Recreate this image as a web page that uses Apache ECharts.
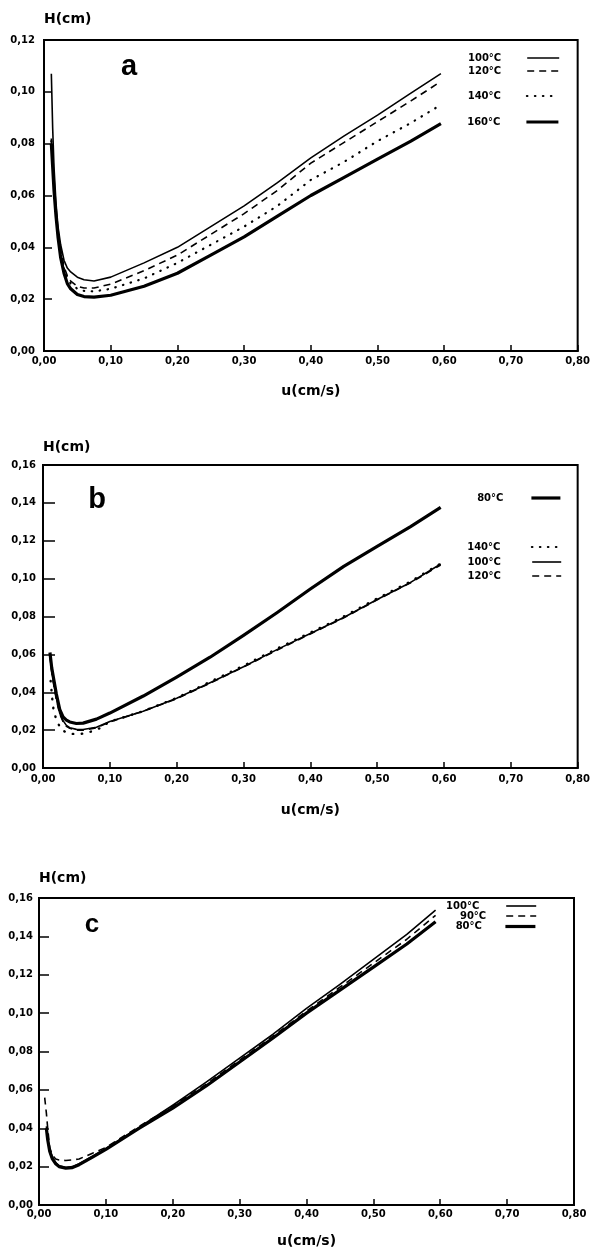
<!DOCTYPE html>
<html>
<head>
<meta charset="utf-8">
<script src="https://cdn.jsdelivr.net/npm/echarts@6/dist/echarts.min.js"></script>
<style>
html,body{margin:0;padding:0;background:#fff;}
#chart{width:593px;height:1250px;}
</style>
</head>
<body>
<div id="chart"></div>
<script>
// ---------- Panel a ----------
const uA = [0.011, 0.013, 0.015, 0.018, 0.021, 0.025, 0.03, 0.035, 0.04, 0.05, 0.06, 0.075, 0.1, 0.15, 0.2, 0.25, 0.3, 0.35, 0.4, 0.45, 0.5, 0.55, 0.595];
const hA100 = [0.107, 0.086, 0.071, 0.057, 0.048, 0.041, 0.035, 0.032, 0.0305, 0.0285, 0.0275, 0.027, 0.0285, 0.034, 0.040, 0.048, 0.056, 0.065, 0.0745, 0.083, 0.091, 0.0995, 0.107];
const hA120 = [0.082, 0.073, 0.064, 0.054, 0.046, 0.039, 0.0325, 0.029, 0.027, 0.025, 0.0243, 0.0243, 0.0258, 0.031, 0.037, 0.045, 0.053, 0.062, 0.0725, 0.0805, 0.0885, 0.0965, 0.104];
const hA140 = [0.081, 0.072, 0.063, 0.053, 0.045, 0.038, 0.0315, 0.028, 0.026, 0.024, 0.0232, 0.023, 0.024, 0.028, 0.034, 0.041, 0.048, 0.056, 0.066, 0.073, 0.081, 0.088, 0.095];
const hA160 = [0.080, 0.071, 0.062, 0.052, 0.044, 0.036, 0.030, 0.026, 0.024, 0.0218, 0.021, 0.0208, 0.0215, 0.025, 0.030, 0.037, 0.044, 0.052, 0.060, 0.067, 0.074, 0.081, 0.0877];

// ---------- Panel b ----------
const uB = [0.0104, 0.013, 0.016, 0.02, 0.025, 0.03, 0.035, 0.04, 0.05, 0.06, 0.08, 0.1, 0.15, 0.2, 0.25, 0.3, 0.35, 0.4, 0.45, 0.5, 0.55, 0.595];
const hB80  = [0.061, 0.053, 0.047, 0.039, 0.031, 0.027, 0.0253, 0.0243, 0.0235, 0.0237, 0.0258, 0.029, 0.038, 0.048, 0.0585, 0.070, 0.082, 0.0945, 0.1065, 0.117, 0.1275, 0.1376];
const hB100 = [0.060, 0.052, 0.045, 0.037, 0.029, 0.025, 0.0225, 0.0213, 0.0204, 0.0203, 0.0215, 0.0245, 0.030, 0.0368, 0.045, 0.0535, 0.0625, 0.071, 0.0795, 0.089, 0.098, 0.1077];
const hB120 = [0.059, 0.051, 0.044, 0.036, 0.0285, 0.0245, 0.022, 0.021, 0.020, 0.020, 0.0212, 0.0243, 0.030, 0.0366, 0.0448, 0.0533, 0.0622, 0.0708, 0.0793, 0.0888, 0.0978, 0.1072];
const uB140 = [0.0114, 0.014, 0.016, 0.021, 0.028, 0.04, 0.057, 0.07, 0.085, 0.1, 0.15, 0.2, 0.25, 0.3, 0.35, 0.4, 0.45, 0.5, 0.55, 0.595];
const hB140 = [0.046, 0.036, 0.030, 0.0245, 0.020, 0.018, 0.018, 0.019, 0.021, 0.0245, 0.030, 0.037, 0.0455, 0.054, 0.063, 0.0715, 0.080, 0.0895, 0.0985, 0.108];

// ---------- Panel c ----------
const uC = [0.011, 0.013, 0.016, 0.02, 0.025, 0.03, 0.04, 0.05, 0.06, 0.08, 0.1, 0.15, 0.2, 0.25, 0.3, 0.35, 0.4, 0.45, 0.5, 0.55, 0.593];
const hC100 = [0.041, 0.035, 0.029, 0.025, 0.022, 0.0205, 0.0195, 0.020, 0.0215, 0.0255, 0.0295, 0.0405, 0.052, 0.064, 0.0765, 0.089, 0.1025, 0.115, 0.128, 0.141, 0.1537];
const hC80  = [0.040, 0.034, 0.028, 0.024, 0.0215, 0.020, 0.0192, 0.0195, 0.021, 0.025, 0.029, 0.040, 0.0505, 0.062, 0.0745, 0.087, 0.100, 0.112, 0.124, 0.136, 0.1476];
const uC90 = [0.0085, 0.011, 0.013, 0.016, 0.02, 0.025, 0.03, 0.04, 0.05, 0.06, 0.08, 0.1, 0.15, 0.2, 0.25, 0.3, 0.35, 0.4, 0.45, 0.5, 0.55, 0.593];
const hC90  = [0.056, 0.048, 0.040, 0.030, 0.026, 0.024, 0.0235, 0.0232, 0.0235, 0.024, 0.027, 0.030, 0.041, 0.0515, 0.063, 0.0755, 0.088, 0.101, 0.1135, 0.126, 0.1385, 0.151];

// Axis text
const yName = 'H(cm)';
const xName = 'u(cm/s)';
const panelLetters = ['a', 'b', 'c'];
const yMax = [0.12, 0.16, 0.16];

const FONT = 'DejaVu Sans';
const pair = (u, h) => u.map((v, i) => [v, h[i]]);
const fmt = v => v.toFixed(2).replace('.', ',');

const STY = {
  thin:  {width: 1.6, type: 'solid'},
  thick: {width: 3.2, type: 'solid'},
  dash:  {width: 1.6, type: [7, 5]},
  dot:   {width: 2.2, type: [0.5, 7.5], cap: 'round'}
};

function line(name, idx, data, sty) {
  return {
    name, type: 'line', xAxisIndex: idx, yAxisIndex: idx, data,
    showSymbol: false, symbol: 'none', smooth: false,
    lineStyle: Object.assign({color: '#000', join: 'round'}, sty), itemStyle: {color: '#000'},
    silent: true, animation: false
  };
}

const grids = [
  {left: 44, right: 11, top: 40, height: 311},
  {left: 43, right: 11, top: 465, height: 303},
  {left: 39, right: 19, top: 898, height: 307}
];
const yTickLen = [8, 12, 10];
const yLabelMargin = [9, 7, 6];
const xLabelMargin = [5, 6, 4];
const yNameGap = [20.5, 17.5, 19.7];
const xNameGap = [40, 42, 36];

const xAxes = grids.map((g, i) => ({
  type: 'value', gridIndex: i, min: 0, max: 0.8, interval: 0.1,
  name: xName, nameLocation: 'middle', nameGap: xNameGap[i],
  nameTextStyle: {fontFamily: FONT, fontWeight: 'bold', fontSize: 14, color: '#000', verticalAlign: 'middle'},
  axisLine: {show: true, lineStyle: {color: '#000', width: 2}},
  axisTick: {show: true, inside: true, length: 6, lineStyle: {color: '#000', width: 1.5}},
  axisLabel: {formatter: fmt, fontFamily: FONT, fontWeight: 'bold', fontSize: 10, color: '#000', margin: xLabelMargin[i]},
  splitLine: {show: false}
}));
const yAxes = grids.map((g, i) => ({
  type: 'value', gridIndex: i, min: 0, max: yMax[i], interval: 0.02,
  name: yName, nameLocation: 'end', nameGap: yNameGap[i],
  nameTextStyle: {fontFamily: FONT, fontWeight: 'bold', fontSize: 14, color: '#000', align: 'left', verticalAlign: 'middle'},
  axisLine: {show: true, lineStyle: {color: '#000', width: 2}},
  axisTick: {show: true, inside: true, length: yTickLen[i], lineStyle: {color: '#000', width: 1.5}},
  axisLabel: {formatter: fmt, fontFamily: FONT, fontWeight: 'bold', fontSize: 10, color: '#000', margin: yLabelMargin[i]},
  splitLine: {show: false}
}));

function leg(name, right, yc, w, pad, sty) {
  return {
    data: [name], right, top: yc - 6, orient: 'vertical', align: 'right',
    itemWidth: w, itemHeight: 12, padding: 0, itemGap: 0, selectedMode: false,
    textStyle: {fontFamily: FONT, fontWeight: 'bold', fontSize: 10, color: '#000', lineHeight: 12, padding: [0, pad, 0, 0]},
    itemStyle: {opacity: 0},
    lineStyle: Object.assign({color: '#000'}, sty)
  };
}

const series = [
  line('100°C', 0, pair(uA, hA100), STY.thin),
  line('120°C', 0, pair(uA, hA120), STY.dash),
  line('140°C', 0, pair(uA, hA140), STY.dot),
  line('160°C', 0, pair(uA, hA160), STY.thick),
  line('80°C', 1, pair(uB, hB80), STY.thick),
  line('140°C ', 1, pair(uB140, hB140), Object.assign({}, STY.dot, {type: [0.5, 8.5], width: 2.4})),
  line('100°C ', 1, pair(uB, hB100), STY.thin),
  line('120°C ', 1, pair(uB, hB120), STY.dash),
  line('100°C  ', 2, pair(uC, hC100), STY.thin),
  line('90°C', 2, pair(uC90, hC90), STY.dash),
  line('80°C ', 2, pair(uC, hC80), STY.thick)
];

const legends = [
  leg('100°C', 33, 58, 32, 21, STY.thin),
  leg('120°C', 33, 71, 32, 21, STY.dash),
  leg('140°C', 33, 96, 32, 21, STY.dot),
  leg('160°C', 33, 122, 32, 21, STY.thick),
  leg('80°C', 31, 498, 29, 23, STY.thick),
  leg('140°C ', 31, 547, 29, 23, STY.dot),
  leg('100°C ', 31, 562, 29, 23, STY.thin),
  leg('120°C ', 31, 576, 29, 23, STY.dash),
  leg('100°C  ', 56, 906, 30, 15, STY.thin),
  leg('90°C', 56, 916, 30, 15, STY.dash),
  leg('80°C ', 56, 926.5, 30, 15, STY.thick)
];

const letterPos = [[129, 67, 29], [97, 499.5, 29], [92, 924.5, 26]];
const graphics = panelLetters.map((t, i) => ({
  type: 'text', x: letterPos[i][0], y: letterPos[i][1], silent: true,
  style: {text: t, fill: '#000', font: 'bold ' + letterPos[i][2] + 'px "Liberation Sans", Arial, sans-serif', align: 'center', verticalAlign: 'middle'}
}));

const chart = echarts.init(document.getElementById('chart'), null, {renderer: 'canvas'});
chart.setOption({
  animation: false,
  backgroundColor: '#fff',
  grid: grids.map(g => Object.assign({show: true, borderColor: '#000', borderWidth: 2, backgroundColor: 'transparent'}, g)),
  xAxis: xAxes,
  yAxis: yAxes,
  legend: legends,
  graphic: graphics,
  series
});
</script>
</body>
</html>
